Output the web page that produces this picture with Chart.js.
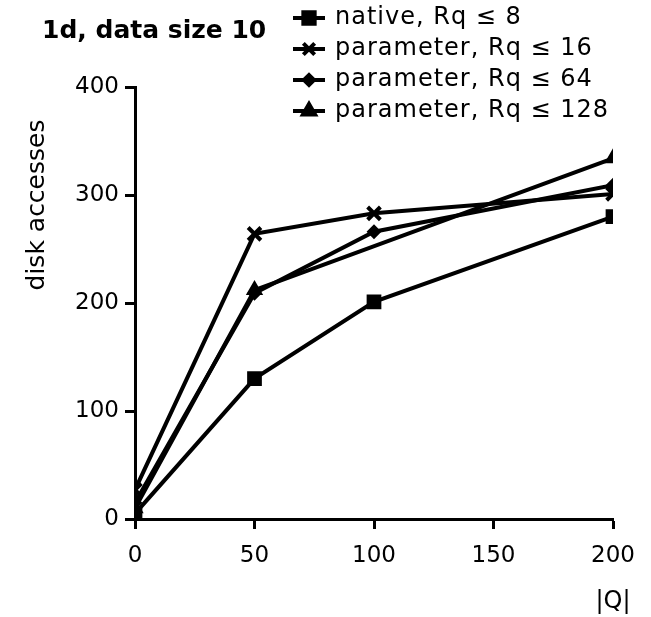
<!DOCTYPE html>
<html>
<head>
<meta charset="utf-8">
<script src="https://cdn.jsdelivr.net/npm/chart.js@4/dist/chart.umd.min.js"></script>
<style>
html,body{margin:0;padding:0;background:#fff;}
#wrap{width:651px;height:617px;position:relative;}
</style>
</head>
<body>
<div id="wrap"><canvas id="c" width="651" height="617"></canvas></div>
<script>
const titleText = "1d, data size 10";
const xLabel = "|Q|";
const yLabel = "disk accesses";
const xTicks = [0, 50, 100, 150, 200];
const yTicks = [0, 100, 200, 300, 400];
const seriesNames = ["native, Rq \u2264 8", "parameter, Rq \u2264 16", "parameter, Rq \u2264 64", "parameter, Rq \u2264 128"];
const xNative = [0, 50, 100, 200];
const yNative = [5, 130, 201, 280];
const xP16 = [0, 50, 100, 200];
const yP16 = [27, 264, 283, 301];
const xP64 = [0, 50, 100, 200];
const yP64 = [15, 209, 266, 309];
const xP128 = [0, 50, 200];
const yP128 = [10, 212, 334];
const markers = ["rect", "crossRot", "rectRot", "triangle"];
const markerSizes = [9, 9, 6, 8];

function pts(xs, ys){ return xs.map((x,i)=>({x:x, y:ys[i]})); }
const seriesData = [pts(xNative,yNative), pts(xP16,yP16), pts(xP64,yP64), pts(xP128,yP128)];

const FONT = "'DejaVu Sans', 'Liberation Sans', Arial, sans-serif";

const datasets = seriesData.map((d,i)=>({
  label: seriesNames[i],
  data: d,
  borderColor: '#000',
  backgroundColor: '#000',
  borderWidth: 4,
  pointStyle: markers[i],
  pointRadius: markerSizes[i],
  pointBorderWidth: i===1 ? 4 : 2,
  pointBackgroundColor: '#000',
  pointBorderColor: '#000',
  tension: 0
}));

const decor = {
  id: 'decor',
  afterDraw(chart){
    const ctx = chart.ctx;
    ctx.save();
    ctx.fillStyle = '#000';
    // title
    ctx.font = "bold 25px " + FONT;
    ctx.textBaseline = 'middle';
    ctx.textAlign = 'left';
    ctx.fillText(titleText, 42, 31);
    // legend
    const rows = [18, 49, 80, 111];
    ctx.font = "24px " + FONT;
    rows.forEach((yy,i)=>{
      ctx.strokeStyle = '#000';
      ctx.lineWidth = 4;
      ctx.letterSpacing = '0px';
      ctx.beginPath(); ctx.moveTo(293, yy); ctx.lineTo(325, yy); ctx.stroke();
      Chart.helpers.drawPoint(ctx, {pointStyle: markers[i], radius: markerSizes[i] - 1, borderWidth: i===1?4:2, rotation:0}, 309, yy);
      ctx.fill();
      ctx.letterSpacing = '1px';
      ctx.fillText(seriesNames[i], 335, yy);
    });
    ctx.letterSpacing = '0px';
    // y label
    ctx.save();
    ctx.translate(37, 205);
    ctx.rotate(-Math.PI/2);
    ctx.textAlign = 'center';
    ctx.font = "25px " + FONT;
    ctx.fillText(yLabel, 0, 0);
    ctx.restore();
    // x label
    ctx.textAlign = 'center';
    ctx.font = "24px " + FONT;
    ctx.fillText(xLabel, 613, 602);
    ctx.restore();
  }
};

new Chart(document.getElementById('c'), {
  type: 'line',
  data: { datasets: datasets },
  options: {
    responsive: false,
    animation: false,
    devicePixelRatio: 1,
    layout: { padding: { top: 87, right: 38, left: 0, bottom: 0 } },
    plugins: { legend: { display: false }, title: { display: false }, tooltip: { enabled: false } },
    scales: {
      x: {
        type: 'linear',
        min: 0, max: 200,
        afterBuildTicks(s){ s.ticks = xTicks.map(v=>({value:v})); },
        afterFit(s){ s.height = 98; },
        border: { display: true, color: '#000', width: 3 },
        grid: { display: true, drawOnChartArea: false, drawTicks: true, tickLength: 10, tickWidth: 3, tickColor: '#000' },
        ticks: { color: '#000', font: { family: FONT, size: 23 }, padding: 13, maxRotation: 0 }
      },
      y: {
        type: 'linear',
        min: 0, max: 400,
        afterBuildTicks(s){ s.ticks = yTicks.map(v=>({value:v})); },
        afterFit(s){ s.width = 135; },
        border: { display: true, color: '#000', width: 3 },
        grid: { display: true, drawOnChartArea: false, drawTicks: true, tickLength: 10, tickWidth: 3, tickColor: '#000' },
        ticks: { color: '#000', font: { family: FONT, size: 23 }, padding: 6 }
      }
    }
  },
  plugins: [decor]
});
</script>
</body>
</html>
